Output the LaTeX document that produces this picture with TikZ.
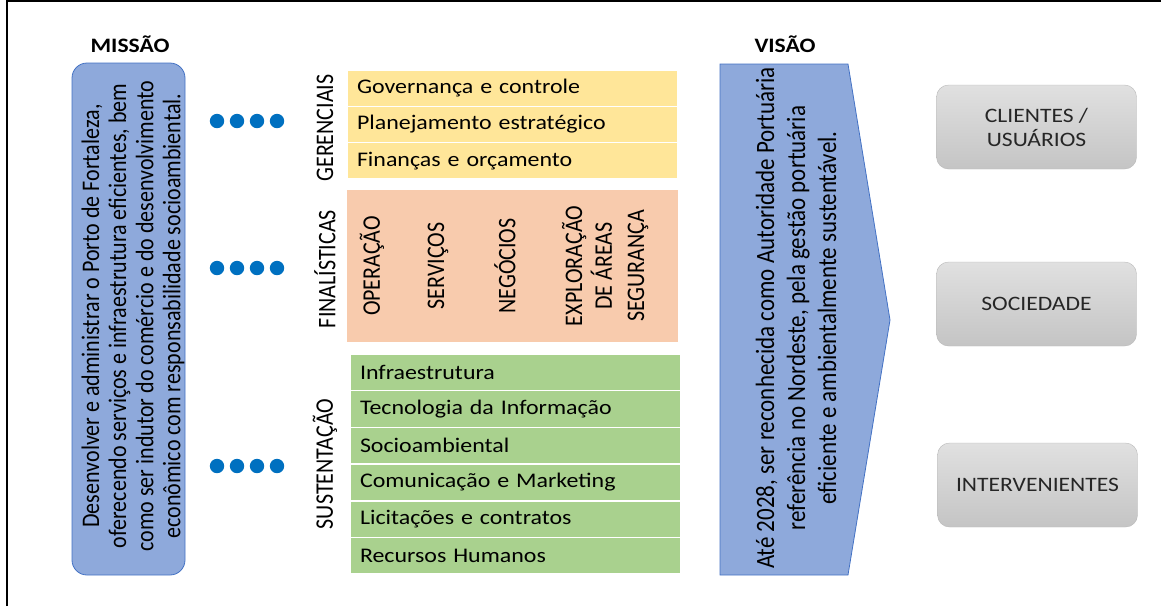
\documentclass[tikz,border=0pt]{standalone}
\usepackage{fontspec}
\setmainfont{Carlito}
\newfontfamily\widefont[FakeStretch=1.15]{Carlito}
\usetikzlibrary{positioning}

\definecolor{missionblue}{RGB}{142,169,219}
\definecolor{missionline}{RGB}{68,114,196}
\definecolor{dotblue}{RGB}{0,112,192}
\definecolor{gerYellow}{RGB}{255,230,153}
\definecolor{finOrange}{RGB}{248,203,173}
\definecolor{susGreen}{RGB}{169,209,142}

\begin{document}
\begin{tikzpicture}[
    x=1pt, y=-1pt,
    node distance=0pt,
    every node/.style={inner sep=0pt, outer sep=0pt},
    title/.style={font=\widefont\bfseries\fontsize{20.5}{24}\selectfont},
    bar/.style={
      draw=white,
      line width=1.5pt,
      minimum width=331pt,
      text width=311pt,
      inner xsep=10pt,
      align=left,
      font=\widefont\fontsize{20.8}{25}\selectfont
    },
    gerbar/.style={bar, fill=gerYellow, minimum height=36.3pt},
    susbar/.style={bar, fill=susGreen, minimum height=36.7pt},
    upright/.style={rotate=90, yscale=1.15},
    sidelabel/.style={upright, font=\fontsize{22}{26}\selectfont},
    column/.style={upright, align=center, font=\fontsize{22}{26}\selectfont},
    bigtext/.style={upright, align=center},
    stakeholder/.style={
      rounded corners=12pt,
      draw=black!28,
      top color=black!12,
      bottom color=black!23,
      minimum width=200pt,
      minimum height=84pt,
      align=center,
      text=black!85,
      font=\widefont\fontsize{20.5}{24}\selectfont
    }
    ]

    \useasboundingbox (0,0) rectangle (1161,606);
    \draw[line width=2.4pt] (7,606) -- (7,1.2) -- (1161,1.2);

    % mission
    \node [title] (missaoT) at (130,44) {MISSÃO};
    \node [draw=missionline, line width=0.8pt, fill=missionblue, rounded corners=15pt,
           minimum width=113pt, minimum height=512pt] (missao) at (128.5,319) {};
    \node [bigtext, font=\fontsize{22}{23.5}\selectfont] (missaoTxt) at (133,316)
      {Desenvolver e administrar o Porto de Fortaleza,\\
       oferecendo serviços e infraestrutura eficientes, bem\\
       como ser indutor do comércio e do desenvolvimento\\
       econômico com responsabilidade socioambiental.};

    \foreach \r in {121,268,466}
      \foreach \c in {217,237,257,277}
        \fill[dotblue] (\c,\r) circle (7.2);

    % processos
    \node [sidelabel] (gerL) at (325,128) {GERENCIAIS};
    \node [sidelabel] (finL) at (325,269) {FINALÍSTICAS};
    \node [sidelabel] (susL) at (325,464) {SUSTENTAÇÃO};

    \node [gerbar, anchor=north west] (g1) at (347,70) {Governança e controle};
    \node [gerbar] (g2) [below = of g1] {Planejamento estratégico};
    \node [gerbar] (g3) [below = of g2] {Finanças e orçamento};

    \node [fill=finOrange, minimum width=331pt, minimum height=152pt, anchor=north west] (fin) at (347,190) {};
    \node [column] (op) at (372,266) {OPERAÇÃO};
    \node [column] (serv) at (438,266) {SERVIÇOS};
    \node [column] (neg) at (505,266) {NEGÓCIOS};
    \node [column] (expl) at (587,266) {EXPLORAÇÃO\\ DE ÁREAS};
    \node [column] (seg) at (638,266) {SEGURANÇA};

    \node [susbar, anchor=north west] (s1) at (350,354) {Infraestrutura};
    \node [susbar] (s2) [below = of s1] {Tecnologia da Informação};
    \node [susbar] (s3) [below = of s2] {Socioambiental};
    \node [susbar] (s4) [below = of s3] {Comunicação e Marketing};
    \node [susbar] (s5) [below = of s4] {Licitações e contratos};
    \node [susbar] (s6) [below = of s5] {Recursos Humanos};

    % vision
    \node [title] (visaoT) at (785,44) {VISÃO};
    \draw[draw=missionline, line width=0.8pt, fill=missionblue]
      (720,64) -- (848,64) -- (890,320) -- (848,575) -- (720,575) -- cycle;
    \node [bigtext, font=\fontsize{23}{27}\selectfont] (visaoTxt) at (796,318)
      {Até 2028, ser reconhecida como Autoridade Portuária\\
       referência no Nordeste, pela gestão portuária\\
       eficiente e ambientalmente sustentável.};

    % partes interessadas
    \node [stakeholder] (cli) at (1036.5,127) {CLIENTES /\\ USUÁRIOS};
    \node [stakeholder] (soc) [below = 93pt of cli] {SOCIEDADE};
    \node [stakeholder] (int) [below = 97pt of soc, xshift=1pt] {INTERVENIENTES};

\end{tikzpicture}
\end{document}
